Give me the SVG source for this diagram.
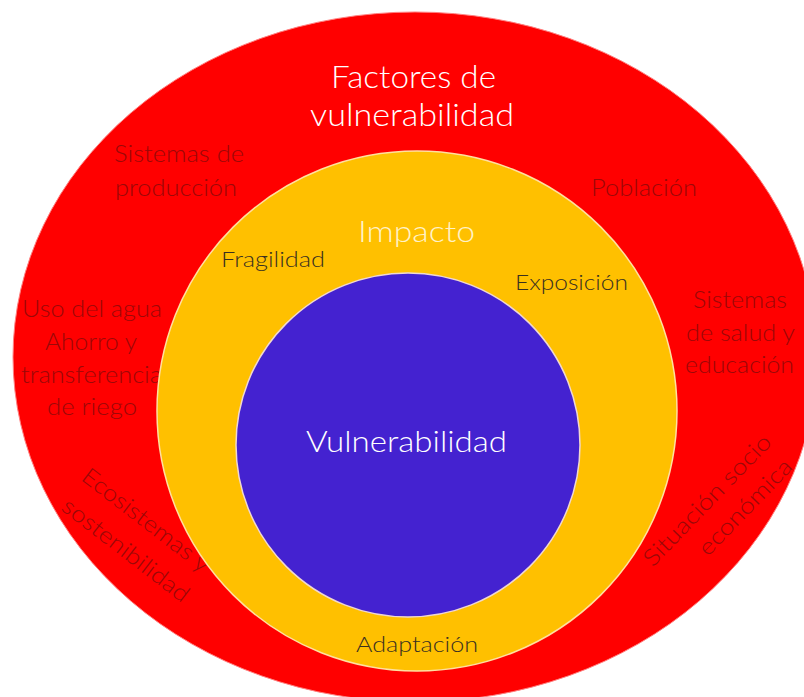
<svg xmlns="http://www.w3.org/2000/svg" width="804" height="697" viewBox="0 0 804 697">
<style>
text{font-family:Lato,"Open Sans","Liberation Sans",sans-serif;font-weight:300;text-anchor:middle}
.r{fill:#9a0808;font-size:23px}
.o{fill:#3a3020;font-size:22px}
.w{fill:#ffffff;font-size:31px}
</style>
<rect width="804" height="697" fill="#ffffff"/>
<g id="factores">
<ellipse cx="415" cy="357" rx="402" ry="345" fill="#ff0000" stroke="#ff8080" stroke-width="1"/>
<text class="w" x="413.5" y="88" textLength="165" lengthAdjust="spacingAndGlyphs">Factores de</text>
<text class="w" x="412" y="126" textLength="204" lengthAdjust="spacingAndGlyphs">vulnerabilidad</text>
<text class="r" x="179" y="162" textLength="130" lengthAdjust="spacingAndGlyphs">Sistemas de</text>
<text class="r" x="176" y="196" textLength="122" lengthAdjust="spacingAndGlyphs">producción</text>
<text class="r" x="644" y="196" textLength="106" lengthAdjust="spacingAndGlyphs">Población</text>
<text class="r" x="92" y="317" textLength="140" lengthAdjust="spacingAndGlyphs">Uso del agua</text>
<text class="r" x="91" y="350" textLength="92" lengthAdjust="spacingAndGlyphs">Ahorro y</text>
<text class="r" x="91.5" y="383" textLength="141" lengthAdjust="spacingAndGlyphs">transferencia</text>
<text class="r" x="92" y="415" textLength="90" lengthAdjust="spacingAndGlyphs">de riego</text>
<text class="r" x="740" y="308" textLength="94" lengthAdjust="spacingAndGlyphs">Sistemas</text>
<text class="r" x="740.5" y="341" textLength="109" lengthAdjust="spacingAndGlyphs">de salud y</text>
<text class="r" x="739.5" y="373" textLength="109" lengthAdjust="spacingAndGlyphs">educación</text>
<text class="r" transform="translate(146,520) rotate(37.6)" x="0" y="8" textLength="154" lengthAdjust="spacingAndGlyphs">Ecosistemas y</text>
<text class="r" transform="translate(126,550) rotate(37.6)" x="0" y="8" textLength="154" lengthAdjust="spacingAndGlyphs">sostenibilidad</text>
<text class="r" transform="translate(707,500) rotate(-46)" x="0" y="8" textLength="173" lengthAdjust="spacingAndGlyphs">Situación socio</text>
<text class="r" transform="translate(745,507) rotate(-46)" x="0" y="8" textLength="124" lengthAdjust="spacingAndGlyphs">económica</text>
</g>
<g id="impacto">
<circle cx="417" cy="411" r="260" fill="#ffc000" stroke="#ffe0a0" stroke-width="1.5"/>
<text class="w" x="416.5" y="242" style="fill:#fff2c8;font-size:30px" textLength="117" lengthAdjust="spacingAndGlyphs">Impacto</text>
<text class="o" x="273" y="267" textLength="104" lengthAdjust="spacingAndGlyphs">Fragilidad</text>
<text class="o" x="571.5" y="290" textLength="113" lengthAdjust="spacingAndGlyphs">Exposición</text>
<text class="o" x="417" y="652" textLength="122" lengthAdjust="spacingAndGlyphs">Adaptación</text>
</g>
<g id="vulnerabilidad">
<circle cx="408" cy="445" r="172" fill="#4422d0" stroke="#f0d8d0" stroke-width="1.5"/>
<text class="w" x="406.5" y="452" style="font-size:30px" textLength="201" lengthAdjust="spacingAndGlyphs">Vulnerabilidad</text>
</g>
<g id="connectors"></g>
</svg>
